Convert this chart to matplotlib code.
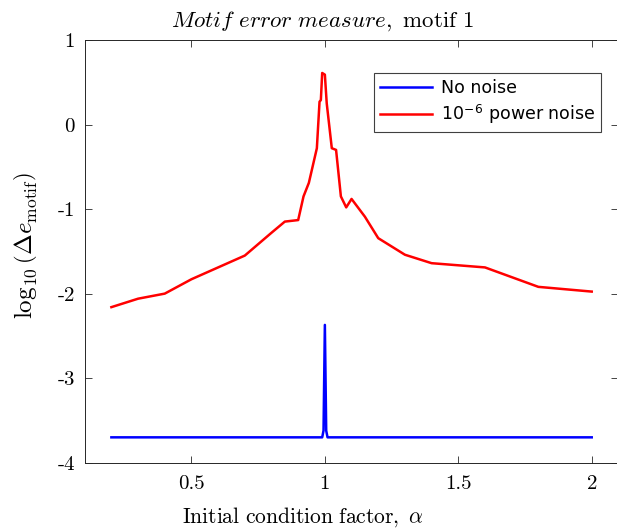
import matplotlib
matplotlib.use("Agg")
import matplotlib.pyplot as plt
import numpy as np

plt.rcParams['mathtext.fontset'] = 'cm'
plt.rcParams['axes.unicode_minus'] = False

# Data
alpha_clean = [0.2, 0.99, 0.995, 1.0, 1.005, 1.01, 2.0]
err_clean = [-3.70, -3.70, -3.62, -2.37, -3.62, -3.70, -3.70]

alpha_noise = [0.2, 0.3, 0.4, 0.5, 0.6, 0.7, 0.8, 0.85, 0.9, 0.92, 0.94, 0.97,
               0.98, 0.985, 0.99, 1.0, 1.007, 1.026, 1.042, 1.06, 1.08, 1.1,
               1.15, 1.2, 1.3, 1.4, 1.6, 1.8, 2.0]
err_noise = [-2.16, -2.06, -2.0, -1.83, -1.69, -1.55, -1.28, -1.148, -1.13, -0.85,
             -0.69, -0.28, 0.27, 0.29, 0.61, 0.59, 0.25, -0.28, -0.30, -0.85,
             -0.98, -0.88, -1.09, -1.344, -1.54, -1.64, -1.69, -1.92, -1.976]

xticks = [0.5, 1.0, 1.5, 2.0]
xticklabels = ['0.5', '1', '1.5', '2']
yticks = [-4, -3, -2, -1, 0, 1]
yticklabels = ['-4', '-3', '-2', '-1', '0', '1']

W, H = 617, 529
fig = plt.figure(figsize=(W / 100, H / 100), dpi=100)
ax_l, ax_r, ax_t, ax_b = 84.7, 618.4, 40.0, 462.7
ax = fig.add_axes([ax_l / W, 1 - ax_b / H, (ax_r - ax_l) / W, (ax_b - ax_t) / H])

ax.plot(alpha_clean, err_clean, color='#0000ff', lw=1.8, label='No noise')
ax.plot(alpha_noise, err_noise, color='#ff0000', lw=1.8,
        label=r'10$^{\mathregular{-6}}$ power noise')

ax.set_xlim(0.1, 2.1)
ax.set_ylim(-4, 1)
ax.set_xticks(xticks)
ax.set_xticklabels(xticklabels, fontfamily='cmr10', fontsize=15)
ax.set_yticks(yticks)
ax.set_yticklabels(yticklabels, fontfamily='cmr10', fontsize=15)
ax.tick_params(direction='in', top=True, right=True, length=5, width=0.6,
               color='#262626')
ax.tick_params(axis='x', pad=9)
ax.tick_params(axis='y', pad=7)
for s in ax.spines.values():
    s.set_color('#262626')
    s.set_linewidth(0.7)

fig.text(322 / W, 1 - 27 / H, r'$\mathit{Motif\ error\ measure},\ \mathrm{motif\ 1}$',
         fontsize=16.5, ha='center', va='baseline')
ax.set_xlabel(r'$\mathrm{Initial\ condition\ factor,}\ \alpha$', fontsize=15.5)
ax.xaxis.set_label_coords((303 - ax_l) / (ax_r - ax_l), (ax_b - 505) / (ax_b - ax_t))
ax.set_ylabel(r'$\log_{10}\left(\Delta e_{\mathrm{motif}}\right)$', fontsize=18)
ax.yaxis.set_label_coords((40 - ax_l) / (ax_r - ax_l), (ax_b - 245) / (ax_b - ax_t))

leg = ax.legend(loc='upper right',
                bbox_to_anchor=((600.7 - ax_l) / (ax_r - ax_l), (ax_b - 73.3) / (ax_b - ax_t)),
                borderaxespad=0, fancybox=False, framealpha=1, edgecolor='#404040',
                prop={'family': 'DejaVu Sans', 'size': 12.5}, handlelength=3.0,
                handletextpad=0.5, borderpad=0.35, labelspacing=0.3)
leg.get_frame().set_linewidth(0.8)

fig.savefig('out.png', dpi=100)
